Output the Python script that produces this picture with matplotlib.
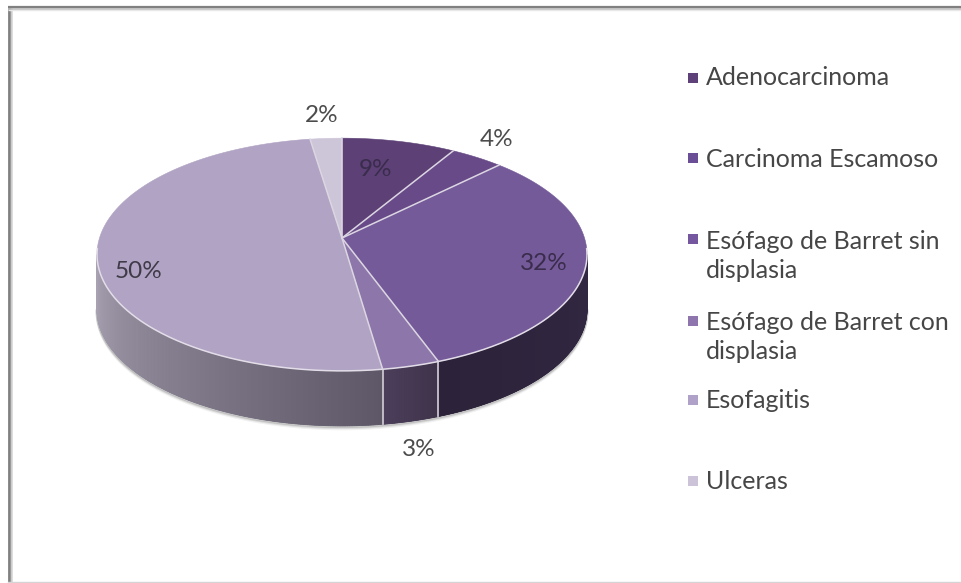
import numpy as np
import matplotlib
matplotlib.use("Agg")
import matplotlib.pyplot as plt
from matplotlib.colors import to_rgb

categories = ["Adenocarcinoma", "Carcinoma Escamoso", "Esófago de Barret sin\ndisplasia",
              "Esófago de Barret con\ndisplasia", "Esofagitis", "Ulceras"]
values = [8.6, 4.0, 31.8, 3.3, 49.9, 2.4]
pct_labels = ["9%", "4%", "32%", "3%", "50%", "2%"]
top_colors = ["#5c4076", "#674a87", "#745a99", "#8d76a9", "#b1a3c3", "#cdc5d8"]
legend_colors = ["#5d4178", "#6b4f96", "#7557a0", "#8f75ad", "#b0a1c9", "#ccc3d8"]
side_left = ["#2e2440", "#2e2440", "#2c2239", "#4c3f5c", "#a8a2b2", "#a8a2b2"]
side_right = ["#2e2440", "#2e2440", "#322843", "#3f334b", "#5e5767", "#5e5767"]
label_xy = [(376, 169), (497, 140), (544, 264), (419, 450), (139, 272), (322, 115)]
label_cols = ["#3a2c4c", "#4c4c4c", "#3a2c4c", "#4c4c4c", "#3f3a48", "#4c4c4c"]
legend_y = [78, 158, 239, 321, 400, 481]
legend_base = [85, 167, 278, 359, 408, 489]

fig = plt.figure(figsize=(9.61, 5.83), dpi=100, facecolor="white")
ax = fig.add_axes([0, 0, 1, 1])
ax.set_xlim(0, 961)
ax.set_ylim(583, 0)
ax.axis("off")

# frame
for x, c, lw in [(9, "#7f7f7f", 2.0), (10.5, "#9a9a9a", 1.5), (12, "#d8d8d8", 1.2)]:
    ax.plot([x, x], [6, 583], color=c, lw=lw, solid_capstyle="butt")
for y, c, lw in [(7, "#808080", 1.6), (8.6, "#b8b8b8", 1.2), (10, "#e8e8e8", 1.0)]:
    ax.plot([8, 961], [y, y], color=c, lw=lw, solid_capstyle="butt")
ax.plot([8, 961], [581.5, 581.5], color="#d4d4d4", lw=1.0)

# perspective disc
APEX = (342, 238)
A, B, P = 242.5, 114.0, 0.142
DEPTH = 55


def project(theta):
    w = 1 + P * np.cos(theta)
    return APEX[0] + A * np.sin(theta) / w, APEX[1] - B * np.cos(theta) / w


edges = np.radians(np.concatenate([[0], np.cumsum(values)]) * 3.6)
vis0, vis1 = np.radians(98.2), np.radians(261.8)

# soft shadow under the side wall
tt = np.linspace(vis0, vis1, 300)
sx, sy = project(tt)
for off, a in [(3.0, 0.10), (1.8, 0.18), (0.8, 0.28)]:
    ax.plot(sx, sy + DEPTH + off, color="#777777", alpha=a, lw=2)

# side wall
for i in range(len(values)):
    a0, a1 = max(edges[i], vis0), min(edges[i + 1], vis1)
    if a1 <= a0:
        continue
    n = max(int((a1 - a0) * 120), 2)
    ts = np.linspace(a0, a1, n + 1)
    cl, cr = np.array(to_rgb(side_left[i])), np.array(to_rgb(side_right[i]))
    bx, by = project(ts)
    ax.fill(np.r_[bx, bx[::-1]], np.r_[by, by[::-1] + DEPTH],
            color=(cl + cr) / 2, lw=0.3, zorder=2)
    for k in range(n):
        f = (ts[k] - a0) / (a1 - a0)
        col = cr * (1 - f) + cl * f
        qx0, qy0 = project(ts[k])
        qx1, qy1 = project(ts[k + 1])
        ax.fill([qx0, qx1, qx1, qx0], [qy0, qy1, qy1 + DEPTH, qy0 + DEPTH],
                color=col, lw=0.6, zorder=2)

# separators on the side wall
for e in edges[1:-1]:
    if vis0 < e < vis1:
        ex, ey = project(e)
        ax.plot([ex, ex], [ey, ey + DEPTH], color="#c9c4cf", lw=1.3, zorder=3)

# top face
for i in range(len(values)):
    ts = np.linspace(edges[i], edges[i + 1], 200)
    xs, ys = project(ts)
    ax.fill(np.r_[APEX[0], xs], np.r_[APEX[1], ys], color=top_colors[i], lw=0.4, zorder=4)

# rim highlight and spokes
rx, ry = project(np.linspace(vis0 - 0.05, vis1 + 0.05, 300))
ax.plot(rx, ry, color="#e2dde8", lw=1.1, zorder=5)
for e in edges[:-1]:
    ex, ey = project(e)
    ax.plot([APEX[0], ex], [APEX[1], ey], color="#dcd6e3", lw=1.1, zorder=5)

FONT = "Lato"
for txt, (x, y), c in zip(pct_labels, label_xy, label_cols):
    ax.text(x, y, txt, ha="center", va="center", fontsize=17.5, family=FONT, color=c, zorder=6)

for name, ym, yb, c in zip(categories, legend_y, legend_base, legend_colors):
    ax.scatter([693], [ym], marker="s", s=62, color=c, linewidths=0, zorder=6)
    ax.text(706, yb, name, ha="left", va="baseline", fontsize=18, family=FONT,
            color="#464646", linespacing=1.3, zorder=6)

fig.savefig("out.png", dpi=100)
